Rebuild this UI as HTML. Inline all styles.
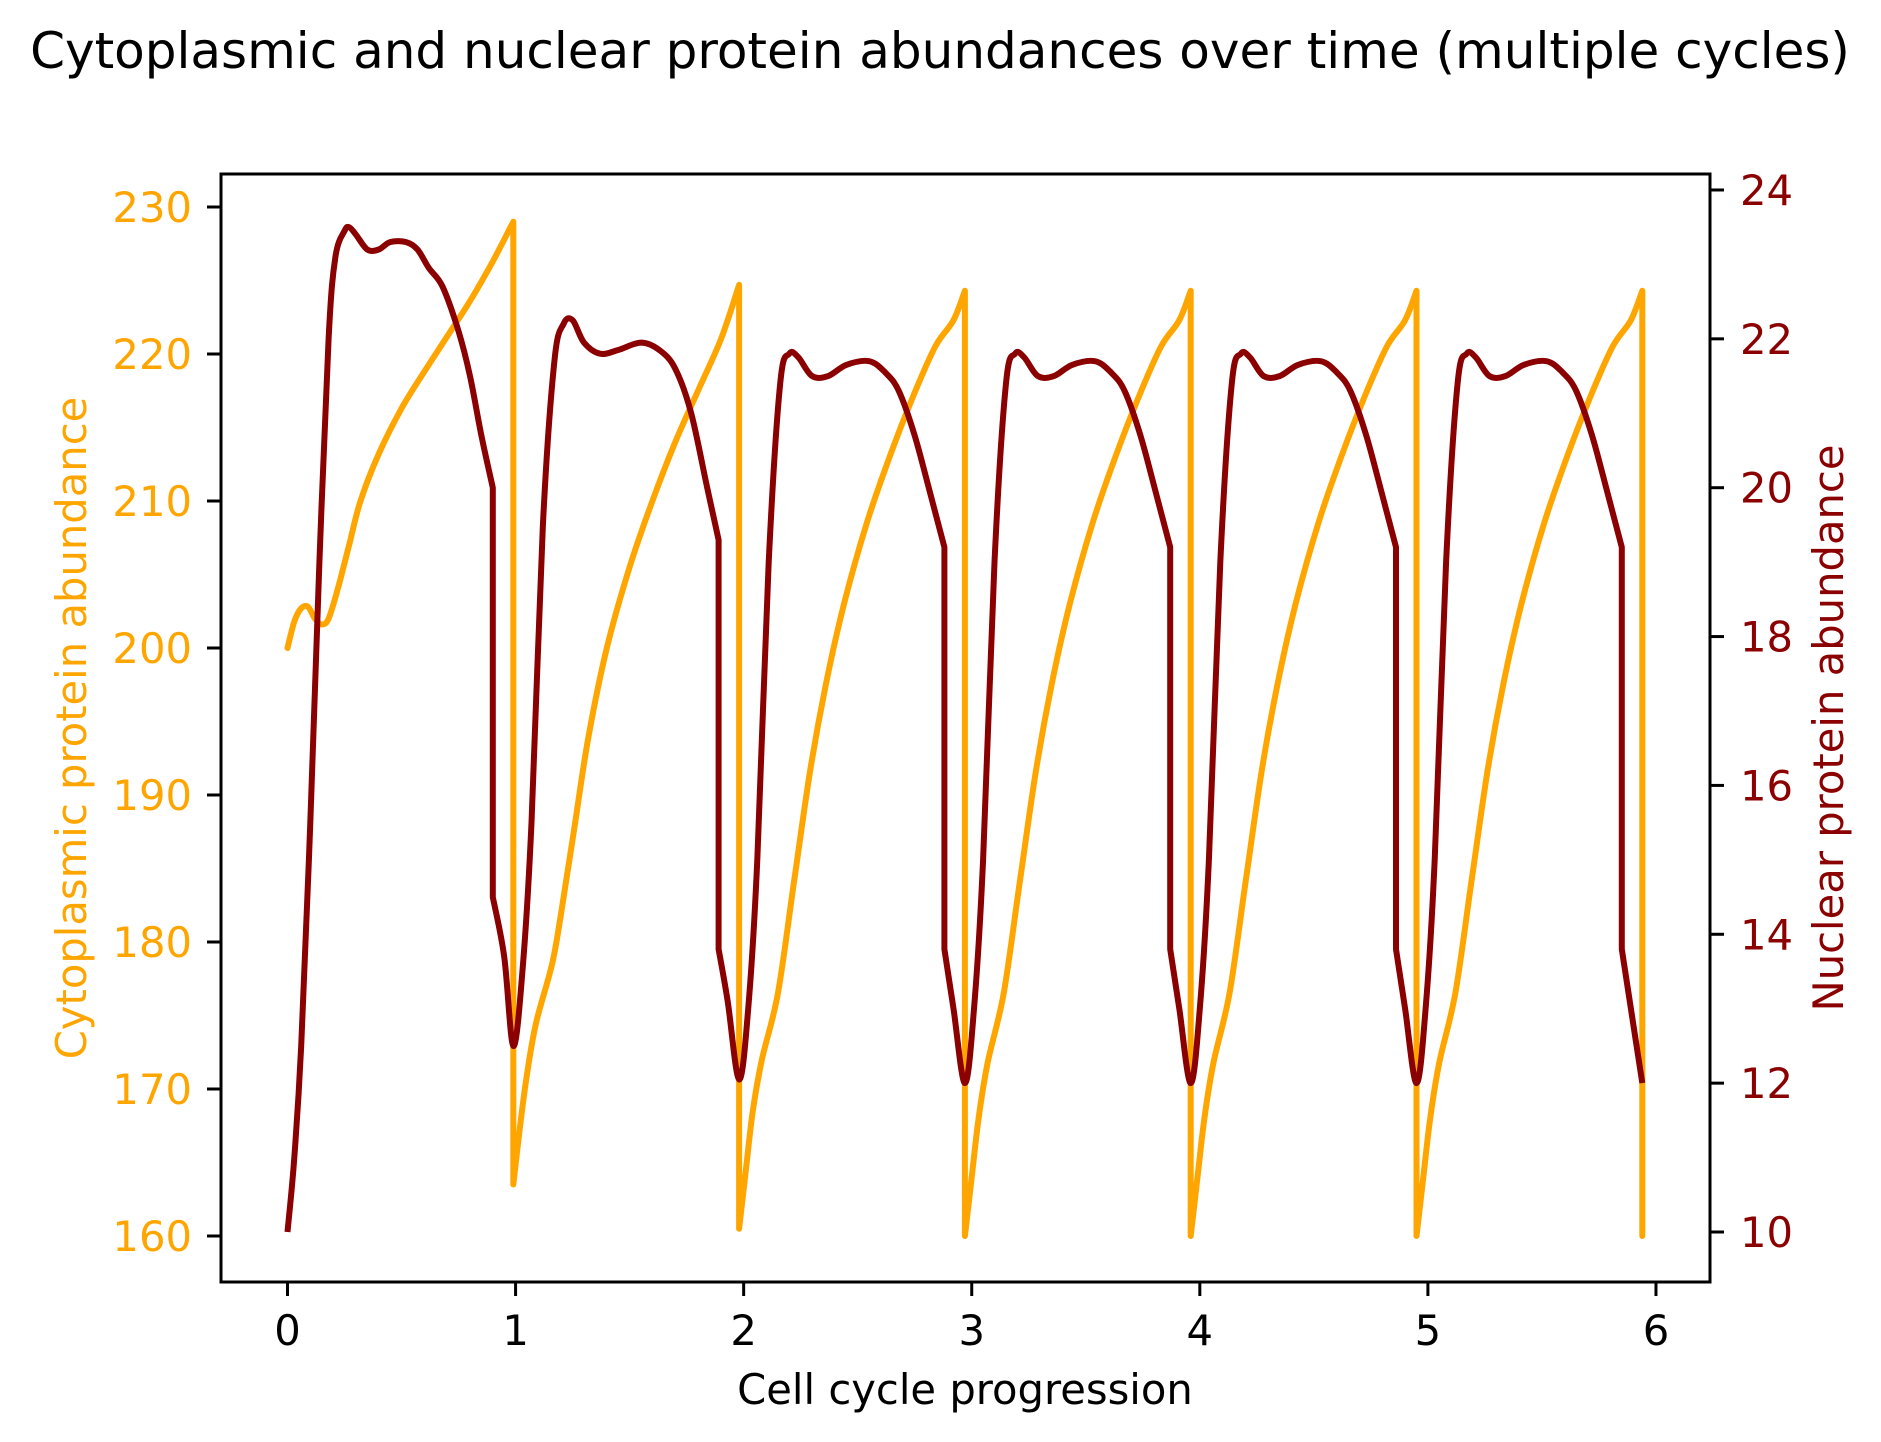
<!DOCTYPE html>
<html><head><meta charset="utf-8"><style>
html,body{margin:0;padding:0;background:#fff;}
svg{display:block;font-family:"DejaVu Sans","Liberation Sans",sans-serif;}
</style></head><body>
<svg id="chart" width="1881" height="1442" viewBox="0 0 1881 1442">
<rect width="1881" height="1442" fill="#fff"/>
<text x="940" y="68" text-anchor="middle" font-size="50" fill="#000">Cytoplasmic and nuclear protein abundances over time (multiple cycles)</text>
<g id="marks"></g>
<rect x="221" y="174" width="1489" height="1108" fill="none" stroke="#000" stroke-width="3"/>
<g id="axes"></g>
<text x="965" y="1404" text-anchor="middle" font-size="41.7" fill="#000">Cell cycle progression</text>
<text transform="translate(86,728) rotate(-90)" text-anchor="middle" font-size="41.7" fill="#ffa500">Cytoplasmic protein abundance</text>
<text transform="translate(1843,728) rotate(-90)" text-anchor="middle" font-size="41.7" fill="#8b0000">Nuclear protein abundance</text>
</svg>
<script>
const xTicks = [0,1,2,3,4,5,6];
const leftTicks = [160,170,180,190,200,210,220,230];
const rightTicks = [10,12,14,16,18,20,22,24];
const cytoX = [0,.03,.06,.09,.12,.15,.18,.22,.27,.32,.4,.5,.6,.7,.8,.9,.99,
 .99,1.02,1.05,1.09,1.16,1.2,1.26,1.32,1.4,1.5,1.6,1.7,1.8,1.9,1.98,
 1.98,2.01,2.04,2.08,2.15,2.22,2.29,2.36,2.44,2.54,2.64,2.74,2.84,2.92,2.97,
 2.97,3.0,3.03,3.07,3.14,3.21,3.28,3.35,3.43,3.53,3.63,3.73,3.83,3.91,3.96,
 3.96,3.99,4.02,4.06,4.13,4.2,4.27,4.34,4.42,4.52,4.62,4.72,4.82,4.9,4.95,
 4.95,4.98,5.01,5.05,5.12,5.19,5.26,5.33,5.41,5.51,5.61,5.71,5.81,5.89,5.94,5.94];
const cytoY = [200,201.8,202.7,202.8,202,201.6,202,204,207,210,213.2,216.3,218.8,221.2,223.6,226.3,229,
 163.5,167.5,171,174.5,178.5,182,188,194,200,205.5,210,214,217.5,221,224.7,
 160.5,164.5,168.5,172,176.5,184,191.5,197.5,203,208.5,213,217,220.5,222.3,224.3,
 160,164,168,171.8,176.5,184,191.5,197.5,203,208.5,213,217,220.5,222.3,224.3,
 160,164,168,171.8,176.5,184,191.5,197.5,203,208.5,213,217,220.5,222.3,224.3,
 160,164,168,171.8,176.5,184,191.5,197.5,203,208.5,213,217,220.5,222.3,224.3,160];
const nucX = [0,.03,.06,.1,.14,.18,.21,.25,.27,.3,.35,.4,.45,.52,.57,.62,.68,.75,.8,.85,.9,.9,.95,.99,
 1.03,1.07,1.12,1.17,1.21,1.25,1.3,1.37,1.45,1.55,1.63,1.7,1.77,1.84,1.89,1.89,1.93,1.98,
 2.02,2.06,2.11,2.16,2.2,2.24,2.3,2.37,2.45,2.55,2.62,2.68,2.75,2.82,2.88,2.88,2.92,2.97,
 3.01,3.05,3.1,3.15,3.19,3.23,3.29,3.36,3.44,3.54,3.61,3.67,3.74,3.81,3.87,3.87,3.91,3.96,
 4.0,4.04,4.09,4.14,4.18,4.22,4.28,4.35,4.43,4.53,4.6,4.66,4.73,4.8,4.86,4.86,4.9,4.95,
 4.99,5.03,5.08,5.13,5.17,5.21,5.27,5.34,5.42,5.52,5.59,5.65,5.72,5.79,5.85,5.85,5.89,5.94];
const nucY = [10,11,12.5,15.5,19,22,23.1,23.45,23.5,23.4,23.2,23.2,23.3,23.3,23.2,22.95,22.7,22.1,21.5,20.7,20.0,14.5,13.7,12.5,
 13.5,15.5,19.5,21.7,22.2,22.25,21.95,21.8,21.85,21.95,21.85,21.6,21.0,20.0,19.3,13.8,13.1,12.05,
 13,15,19,21.4,21.8,21.75,21.5,21.5,21.65,21.7,21.55,21.3,20.7,19.9,19.2,13.8,13,12,
 13,15,19,21.4,21.8,21.75,21.5,21.5,21.65,21.7,21.55,21.3,20.7,19.9,19.2,13.8,13,12,
 13,15,19,21.4,21.8,21.75,21.5,21.5,21.65,21.7,21.55,21.3,20.7,19.9,19.2,13.8,13,12,
 13,15,19,21.4,21.8,21.75,21.5,21.5,21.65,21.7,21.55,21.3,20.7,19.9,19.2,13.8,13,12];

const NS='http://www.w3.org/2000/svg';
function sx(v){return 287.5+228.08*v;}
function syL(v){return 207-(v-230)*14.7;}
function syR(v){return 1232-(v-10)*74.43;}

function pathFor(xs, ys, fy){
  const P = xs.map((x,i)=>[sx(x), fy(ys[i])]);
  let d = 'M'+P[0][0].toFixed(1)+','+P[0][1].toFixed(1);
  const jump = i => Math.abs(P[i+1][0]-P[i][0])<0.5;
  for(let i=0;i<P.length-1;i++){
    if(jump(i)){ d+=' L'+P[i+1][0].toFixed(1)+','+P[i+1][1].toFixed(1); continue; }
    const p0 = (i>0 && !jump(i-1)) ? P[i-1] : P[i];
    const p3 = (i+2<P.length && !jump(i+1)) ? P[i+2] : P[i+1];
    const p1=P[i], p2=P[i+1], t=1/6;
    const c1=[p1[0]+(p2[0]-p0[0])*t, p1[1]+(p2[1]-p0[1])*t];
    const c2=[p2[0]-(p3[0]-p1[0])*t, p2[1]-(p3[1]-p1[1])*t];
    d+=' C'+c1.map(v=>v.toFixed(1)).join(',')+' '+c2.map(v=>v.toFixed(1)).join(',')+' '+p2[0].toFixed(1)+','+p2[1].toFixed(1);
  }
  return d;
}
const marks=document.getElementById('marks');
const pc=document.createElementNS(NS,'path');
pc.setAttribute('d',pathFor(cytoX,cytoY,syL));
pc.setAttribute('fill','none');pc.setAttribute('stroke','#ffa500');pc.setAttribute('stroke-width','6');pc.setAttribute('stroke-linejoin','round');pc.setAttribute('stroke-linecap','round');


marks.appendChild(pc);
const pn=document.createElementNS(NS,'path');
pn.setAttribute('d',pathFor(nucX,nucY,syR));
pn.setAttribute('fill','none');pn.setAttribute('stroke','#8b0000');pn.setAttribute('stroke-width','6');pn.setAttribute('stroke-linejoin','round');pn.setAttribute('stroke-linecap','butt');


marks.appendChild(pn);

const axes=document.getElementById('axes');
function line(x1,y1,x2,y2){const l=document.createElementNS(NS,'line');l.setAttribute('x1',x1);l.setAttribute('y1',y1);l.setAttribute('x2',x2);l.setAttribute('y2',y2);l.setAttribute('stroke','#000');l.setAttribute('stroke-width','3');return l;}
function txt(x,y,s,anchor,color){const t=document.createElementNS(NS,'text');t.setAttribute('x',x);t.setAttribute('y',y);t.setAttribute('text-anchor',anchor);t.setAttribute('font-size','41.7');t.setAttribute('fill',color);t.textContent=s;return t;}
xTicks.forEach(v=>{
  const l=line(sx(v),1282,sx(v),1296);
  
  
  axes.appendChild(l);
  const t=txt(sx(v),1345,String(v),'middle','#000');
  
  
  axes.appendChild(t);
});
leftTicks.forEach(v=>{
  const l=line(207,syL(v),221,syL(v));
  
  
  axes.appendChild(l);
  const t=txt(192,syL(v)+15,String(v),'end','#ffa500');
  
  
  axes.appendChild(t);
});
rightTicks.forEach(v=>{
  const l=line(1710,syR(v),1724,syR(v));
  
  
  axes.appendChild(l);
  const t=txt(1740,syR(v)+15,String(v),'start','#8b0000');
  
  
  axes.appendChild(t);
});
</script>
</body></html>
